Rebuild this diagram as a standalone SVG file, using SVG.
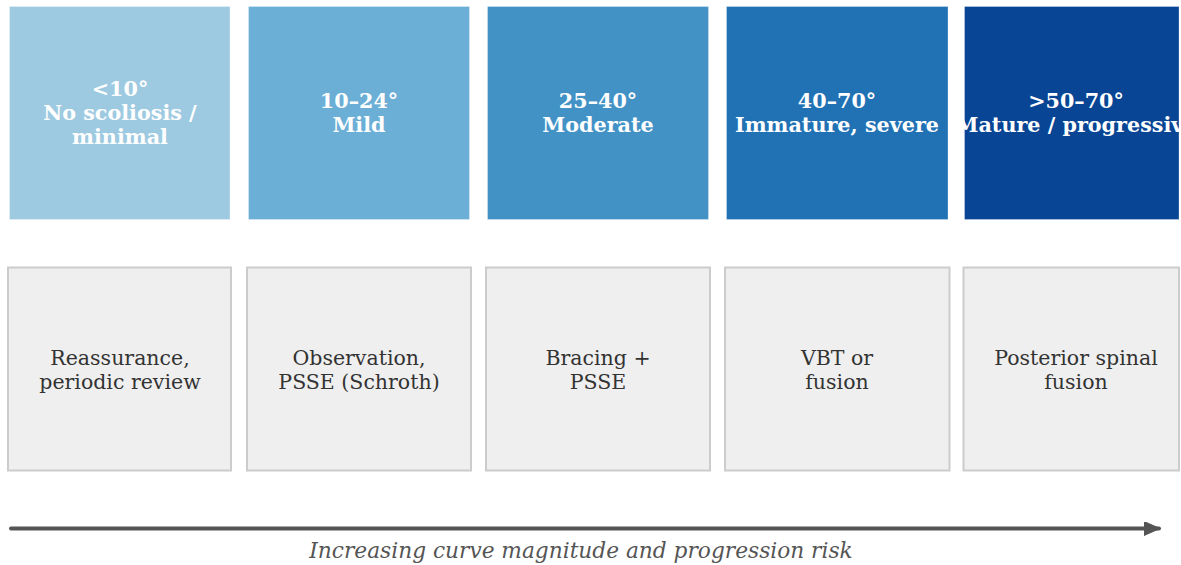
<svg xmlns="http://www.w3.org/2000/svg" width="1181" height="565" viewBox="0 0 1181 565">
  <style>
    .band { stroke: #ffffff; stroke-opacity: 0.3; stroke-width: 1; }
    .band-text { font-family: "DejaVu Serif", "Liberation Serif", serif; font-weight: bold; font-size: 20.7px; fill: #ffffff; text-anchor: middle; }
    .care { fill: #efefef; stroke: #cccccc; stroke-width: 2; }
    .care-text { font-family: "DejaVu Serif", "Liberation Serif", serif; font-size: 20.5px; fill: #333333; text-anchor: middle; }
    .axis-label { font-family: "DejaVu Serif", "Liberation Serif", serif; font-style: italic; font-size: 21.7px; fill: #555555; text-anchor: middle; }
  </style>
  <defs>
    <marker id="arrowhead" viewBox="0 0 16 14" refX="15" refY="7" markerWidth="16" markerHeight="14" markerUnits="userSpaceOnUse" orient="auto">
      <path d="M0,0 L16,7 L0,14 Z" fill="#555555" stroke="#555555" stroke-width="1" stroke-linejoin="round"/>
    </marker>
    <clipPath id="clip-band5">
      <rect x="964" y="6" width="215" height="214"/>
    </clipPath>
  </defs>
  <rect width="1181" height="565" fill="#ffffff"/>

  <!-- severity bands -->
  <g id="band-1">
    <rect class="band" x="9.5" y="6.5" width="220.5" height="213" fill="#9ecae1"/>
    <text class="band-text" x="120" y="95.5">&lt;10°</text>
    <text class="band-text" x="120" y="120">No scoliosis /</text>
    <text class="band-text" x="120" y="144">minimal</text>
  </g>
  <g id="band-2">
    <rect class="band" x="248.5" y="6.5" width="221" height="213" fill="#6baed6"/>
    <text class="band-text" x="359" y="107.5">10–24°</text>
    <text class="band-text" x="359" y="132">Mild</text>
  </g>
  <g id="band-3">
    <rect class="band" x="487.5" y="6.5" width="221" height="213" fill="#4292c6"/>
    <text class="band-text" x="598" y="107.5">25–40°</text>
    <text class="band-text" x="598" y="132">Moderate</text>
  </g>
  <g id="band-4">
    <rect class="band" x="726.5" y="6.5" width="221.5" height="213" fill="#2171b5"/>
    <text class="band-text" x="837" y="107.5">40–70°</text>
    <text class="band-text" x="837" y="132">Immature, severe</text>
  </g>
  <g id="band-5">
    <rect class="band" x="964.5" y="6.5" width="214.5" height="213" fill="#084594"/>
    <!-- the box is narrower than its label, so the label is cut at both sides -->
    <g clip-path="url(#clip-band5)">
      <text class="band-text" x="1076" y="107.5">&gt;50–70°</text>
      <text class="band-text" x="1076" y="132">Mature / progressive</text>
    </g>
  </g>

  <!-- management boxes -->
  <g id="care-1">
    <rect class="care" x="8" y="267.5" width="223" height="203"/>
    <text class="care-text" x="120" y="365">Reassurance,</text>
    <text class="care-text" x="120" y="388.5">periodic review</text>
  </g>
  <g id="care-2">
    <rect class="care" x="247" y="267.5" width="224" height="203"/>
    <text class="care-text" x="359" y="365">Observation,</text>
    <text class="care-text" x="359" y="388.5">PSSE (Schroth)</text>
  </g>
  <g id="care-3">
    <rect class="care" x="486" y="267.5" width="224" height="203"/>
    <text class="care-text" x="598" y="365">Bracing +</text>
    <text class="care-text" x="598" y="388.5">PSSE</text>
  </g>
  <g id="care-4">
    <rect class="care" x="725" y="267.5" width="224.5" height="203"/>
    <text class="care-text" x="837" y="365">VBT or</text>
    <text class="care-text" x="837" y="388.5">fusion</text>
  </g>
  <g id="care-5">
    <rect class="care" x="963.5" y="267.5" width="215.5" height="203"/>
    <text class="care-text" x="1076" y="365">Posterior spinal</text>
    <text class="care-text" x="1076" y="388.5">fusion</text>
  </g>

  <!-- progression axis -->
  <g id="connectors">
    <line x1="11" y1="528.5" x2="1159" y2="528.5" stroke="#555555" stroke-width="4" stroke-linecap="round" marker-end="url(#arrowhead)"/>
  </g>
  <text class="axis-label" x="581" y="558">Increasing curve magnitude and progression risk</text>
</svg>
